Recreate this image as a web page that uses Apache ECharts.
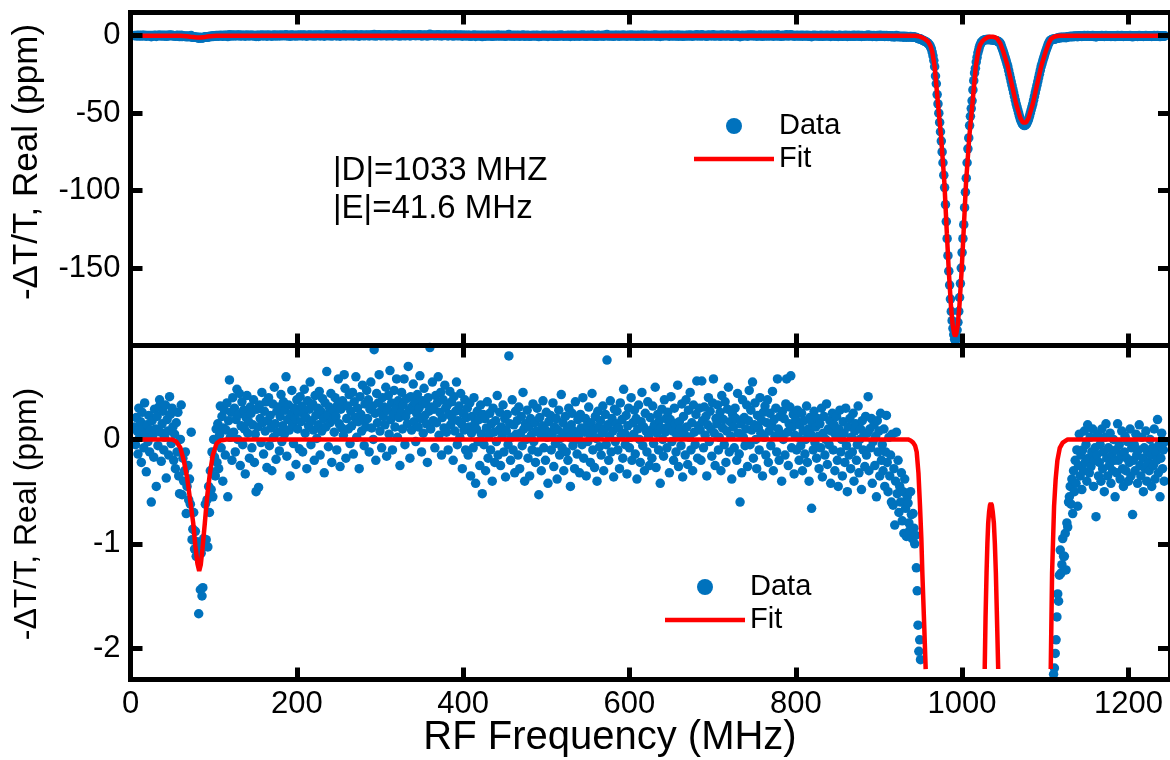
<!DOCTYPE html>
<html>
<head>
<meta charset="utf-8">
<script src="https://cdn.jsdelivr.net/npm/echarts@6/dist/echarts.min.js"></script>
<style>
  html, body { margin: 0; padding: 0; background: #ffffff; }
  #chart { width: 1170px; height: 760px; }
</style>
</head>
<body>
<div id="chart"></div>
<script>
// RF sweep: one reading per MHz, starting at 5 MHz
const freqStart = 5;
const freqStep = 1;

// -dT/T (ppm), one row per 20 MHz of the sweep
const signal = [
  0.12,-0.05,0.21,0.08,-0.14,0.3,0.02,0.17,-0.22,0.26,0.11,-0.08,0.35,0.05,-0.31,0.14,-0.02,0.23,-0.12,0.09,
  -0.6,0.18,0.04,-0.17,0.29,0.1,-0.45,0.22,-0.06,0.31,0.38,0.07,-0.21,0.15,0.27,-0.1,0.02,0.33,-0.37,0.19,
  0.08,-0.15,0.41,0.24,-0.04,0.3,0.12,-0.2,0.05,-0.28,0.16,-0.12,0.26,-0.35,-0.52,0.0,0.33,-0.53,-0.18,-0.4,
  -0.3,-0.12,-0.71,-0.45,-0.25,-0.58,-0.38,-0.62,0.07,-0.96,-0.86,-0.7,-1.05,-0.88,-1.12,-0.98,-1.08,-1.67,-1.03,-1.44,
  -1.09,-1.5,-1.42,-0.95,-1.0,-0.62,-0.96,-0.58,-1.03,-0.45,-0.7,-0.3,-0.48,-0.12,-0.55,0.0,-0.17,-0.35,0.1,-0.22,
  0.15,-0.28,0.04,0.32,-0.08,0.22,-0.4,0.11,0.28,-0.15,0.09,0.35,-0.55,0.18,0.57,0.02,0.26,-0.2,0.4,0.07,
  0.3,-0.12,0.19,0.48,0.0,0.24,0.44,-0.25,0.13,0.36,-0.05,0.28,0.1,-0.33,0.21,0.42,0.06,0.17,-0.18,0.31,
  0.25,-0.08,0.14,0.38,-0.22,0.05,-0.5,0.29,0.12,-0.46,0.33,0.2,-0.03,0.45,0.16,-0.14,0.27,0.08,0.36,-0.27,
  0.18,0.4,-0.06,0.23,0.11,-0.3,0.34,0.02,0.5,0.15,-0.19,0.27,0.07,0.31,-0.11,0.22,0.43,-0.02,0.13,0.36,
  0.05,0.28,0.6,-0.16,0.19,0.33,0.09,-0.35,0.24,0.47,0.14,-0.04,0.3,0.2,-0.24,0.38,0.1,0.26,-0.09,0.41,
  0.17,0.32,-0.12,0.25,0.48,0.06,0.21,-0.28,0.37,0.13,0.29,0.55,-0.05,0.18,0.34,0.09,-0.2,0.42,0.23,0.01,
  0.3,0.14,0.46,-0.15,0.27,0.08,0.39,0.2,-0.32,0.35,0.12,0.65,0.24,-0.07,0.31,0.16,0.44,-0.22,0.19,0.28,
  0.07,0.4,0.22,-0.1,0.33,0.58,0.15,-0.26,0.29,0.11,0.37,0.04,0.62,0.49,-0.18,0.2,0.32,0.1,0.43,-0.04,
  0.27,0.13,0.45,-0.14,0.36,0.21,0.6,0.02,0.3,0.17,-0.28,0.41,0.24,0.08,0.52,0.19,-0.06,0.34,0.12,0.47,
  0.2,0.38,-0.12,0.29,0.55,0.11,0.32,0.0,0.86,0.25,-0.2,0.44,0.16,0.35,0.62,0.08,0.27,-0.08,0.4,0.22,
  0.31,0.14,0.5,-0.16,0.28,0.42,0.05,0.66,0.19,0.35,-0.1,0.24,0.47,0.12,0.3,0.58,0.02,0.37,0.21,-0.25,
  0.26,0.45,0.1,0.33,0.58,-0.05,0.22,0.39,0.15,0.7,0.28,-0.18,0.41,0.09,0.32,0.53,0.17,0.36,-0.02,0.25,
  0.43,0.12,0.3,0.61,0.2,-0.12,0.37,0.06,0.49,0.23,0.34,0.15,-0.22,0.4,0.27,0.88,0.1,0.31,0.55,0.18,
  0.29,-0.08,0.42,0.16,0.35,0.6,0.04,0.26,0.45,-0.15,0.21,0.38,0.11,0.52,0.3,0.07,0.33,-0.1,0.24,0.46,
  0.14,0.36,0.2,-0.2,0.41,0.08,0.27,0.55,-0.05,0.18,0.32,0.02,0.44,0.15,-0.28,0.25,0.09,0.38,-0.1,0.21,
  0.3,-0.15,0.12,0.35,-0.35,0.06,0.22,-0.08,0.4,0.15,-0.42,0.1,0.27,-0.02,0.19,-0.25,0.33,0.05,-0.52,0.24,
  -0.05,0.2,-0.3,0.11,0.36,-0.18,0.04,0.25,-0.1,0.15,-0.4,0.3,0.07,-0.22,0.18,-0.02,0.42,-0.15,0.09,0.26,
  -0.25,0.12,0.03,0.33,-0.12,0.2,-0.36,0.08,0.24,-0.05,0.8,0.15,-0.2,0.02,0.38,-0.1,0.14,-0.32,0.27,0.05,
  0.18,-0.15,0.31,-0.28,0.06,0.22,-0.06,0.45,0.1,-0.4,0.15,0.0,0.28,-0.18,0.12,-0.35,0.2,0.04,-0.1,0.34,
  -0.02,0.16,-0.22,0.08,0.3,-0.12,-0.53,0.21,0.05,-0.3,0.13,0.37,-0.08,0.1,-0.2,0.26,0.02,-0.42,0.17,0.07,
  0.23,-0.1,0.04,0.35,-0.26,0.12,-0.04,0.2,-0.38,0.09,0.28,-0.15,0.01,0.43,-0.08,0.16,-0.3,0.06,0.22,-0.12,
  0.1,-0.2,0.3,0.02,-0.45,0.14,0.25,-0.06,0.08,-0.28,0.36,0.0,-0.14,0.19,0.04,-0.32,0.24,0.11,-0.05,0.4,
  -0.18,0.07,0.2,-0.35,0.13,-0.02,0.31,0.05,-0.22,0.16,0.44,-0.1,0.09,-0.27,0.22,0.01,-0.4,0.27,0.12,-0.07,
  0.18,-0.15,0.06,0.32,-0.3,0.1,0.24,-0.05,0.76,0.14,-0.2,0.03,0.37,-0.12,0.2,0.08,-0.36,0.29,-0.02,0.15,
  0.27,-0.1,0.11,-0.28,0.35,0.04,0.19,-0.18,0.48,0.06,-0.05,0.23,-0.33,0.13,0.3,-0.08,0.02,0.4,-0.2,0.16,
  0.05,0.28,-0.14,0.2,-0.38,0.1,0.33,0.0,-0.22,0.17,0.45,-0.06,0.12,-0.3,0.25,0.08,-0.12,0.36,0.03,-0.25,
  0.21,0.09,-0.18,0.32,-0.04,0.14,0.5,-0.27,0.06,0.24,-0.1,0.18,-0.42,0.11,0.29,0.0,-0.16,0.38,0.07,0.2,
  -0.08,0.26,0.13,-0.32,0.19,0.41,-0.02,0.08,-0.2,0.3,0.15,-0.12,0.04,0.52,-0.26,0.17,0.1,-0.06,0.34,-0.36,
  0.22,0.05,-0.15,0.38,0.12,-0.24,0.28,0.02,0.45,-0.1,0.16,-0.3,0.33,0.07,-0.05,0.24,0.56,-0.18,0.13,0.3,
  0.09,-0.2,0.56,0.18,-0.08,0.31,0.04,0.22,-0.35,0.14,0.4,-0.02,0.27,0.1,-0.16,0.35,0.58,0.06,-0.25,0.2,
  0.15,0.33,-0.1,0.02,0.26,-0.3,0.42,0.11,0.19,-0.05,0.36,-0.22,0.08,0.29,0.5,-0.12,0.17,0.03,-0.38,0.24,
  0.12,-0.08,0.3,0.2,-0.2,0.44,0.06,-0.14,-0.6,0.15,-0.32,0.38,0.02,0.21,-0.06,0.1,0.33,-0.26,0.18,0.47,
  -0.05,0.28,0.09,0.55,-0.18,0.14,0.35,0.0,-0.28,0.23,0.11,-0.1,0.4,0.06,0.18,-0.35,0.26,0.02,0.32,-0.15,
  0.16,0.38,-0.22,0.08,0.25,-0.06,0.13,0.46,-0.3,0.19,0.03,0.3,-0.12,0.58,0.1,-0.2,0.22,0.05,-0.4,0.27,
  0.0,0.2,-0.15,0.34,0.58,0.07,-0.25,0.15,0.31,0.61,-0.08,0.12,0.24,-0.33,0.04,0.19,-0.1,0.28,0.02,-0.2,
  0.14,-0.06,0.25,-0.3,0.08,0.18,-0.14,0.0,0.32,-0.22,0.1,-0.4,0.21,0.05,-0.66,0.16,-0.1,0.27,-0.03,0.12,
  -0.18,0.2,0.03,-0.28,0.15,-0.08,0.3,-0.36,0.06,0.22,-0.15,0.0,0.34,-0.24,0.1,-0.05,0.18,-0.42,0.08,0.25,
  -0.1,0.14,-0.3,0.04,0.22,-0.2,-0.45,0.1,0.28,-0.12,0.0,-0.35,0.17,0.06,-0.22,0.3,-0.06,-0.5,0.12,-0.15,
  0.2,-0.28,0.02,-0.12,0.25,-0.4,0.08,0.15,-0.2,-0.05,0.32,-0.32,0.0,0.1,-0.48,0.18,-0.1,0.05,-0.26,0.22,
  -0.15,0.06,0.41,-0.3,0.1,-0.08,0.2,-0.42,-0.02,0.14,-0.25,0.03,-0.55,0.18,-0.12,0.08,-0.35,0.25,-0.2,-0.05,
  -0.3,0.1,-0.45,-0.12,0.23,-0.22,-0.5,0.02,-0.35,-0.15,-0.6,0.05,-0.63,-0.28,-0.82,-0.4,0.07,-0.52,-0.2,-0.7,
  -0.45,-0.6,-0.32,-0.78,-0.5,-0.9,-0.38,-0.66,-0.93,-0.55,-0.61,-0.8,-0.87,-0.5,-0.72,-0.95,-0.71,-0.85,-1.0,-0.92,
  -1.23,-1.45,-1.78,-2.03,-1.92,-2.11,-2.4,-2.7,-3.0,-3.3,-3.5,-3.8,-4.1,-4.5,-4.9,-5.4,-6.1,-7.2,-8.4,-10.5,
  -13,-16,-20,-26,-31,-38,-44,-50,-56,-62,-68,-75,-82,-90,-98,-109,-120,-131,-142,-152,
  -161,-170,-178,-184,-189,-193,-196,-197,-194,-190,-185,-178,-169,-160,-150,-140,-131,-122,-111,-101,
  -92,-82,-73,-66,-58,-52,-47,-42,-35,-29,-24,-21,-17,-14,-11,-9,-7,-5.5,-4.5,-3.8,
  -3.3,-2.9,-2.7,-2.55,-2.5,-2.45,-2.45,-2.5,-2.5,-2.55,-2.6,-2.65,-2.7,-2.8,-2.9,-3.0,-3.2,-3.4,-3.6,-3.9,
  -4.2,-5.0,-6.4,-7.9,-9.4,-11,-12.8,-14.5,-16.3,-18.2,-20,-22.4,-24.8,-27.2,-29.6,-32,-34.4,-36.8,-39.2,-41.6,
  -44,-46,-48,-50,-52,-53.8,-55.2,-56.4,-57.3,-57.8,-58,-57.8,-57.3,-56.4,-55.2,-53.8,-52,-50,-48,-46,
  -44,-41.6,-39.2,-36.8,-34.4,-32,-29.6,-27.2,-24.8,-22.4,-20,-18.2,-16.3,-14.5,-12.8,-11,-9.4,-7.9,-6.4,-5.0,
  -4.0,-3.2,-2.7,-2.5,-2.35,-2.25,-2.19,-2.05,-1.92,-1.7,-1.48,-1.55,-1.3,-1.06,-1.28,-1.2,-0.95,-1.12,-1.12,-0.9,
  -1.25,-0.8,-0.84,-0.6,-0.55,-0.45,-0.62,-0.38,-0.71,-0.3,-0.5,-0.2,-0.42,-0.1,-0.64,-0.25,0.05,-0.35,-0.15,-0.48,
  -0.1,-0.3,0.08,-0.22,-0.05,-0.4,0.14,-0.18,-0.32,0.02,-0.26,-0.12,0.1,-0.45,-0.2,-0.08,-0.74,-0.15,0.05,-0.35,
  -0.22,-0.05,-0.4,0.1,-0.28,-0.12,-0.5,0.02,0.15,-0.18,-0.35,-0.08,-0.25,0.06,-0.42,-0.15,-0.3,0.0,-0.2,-0.55,
  -0.1,-0.32,0.15,-0.2,-0.05,-0.38,-0.15,0.08,-0.28,-0.45,-0.12,0.03,-0.3,-0.18,-0.02,-0.4,-0.22,0.1,-0.35,-0.08,
  -0.72,-0.2,-0.05,-0.3,0.05,-0.15,-0.42,-0.1,0.14,-0.25,-0.35,0.02,-0.18,-0.5,-0.08,-0.28,0.08,-0.4,-0.12,-0.22,
  -0.3,0.0,-0.15,-0.45,-0.08,-0.25,0.1,-0.38,-0.12,-0.2,0.19,-0.32,-0.05,-0.55,-0.18,0.06,-0.28,-0.1,-0.4,-0.02
];

// Fitted resonance curve: [frequency (MHz), -dT/T (ppm)]
const fitCurve = [
  [3,0],[50,0],[55,-0.02],[60,-0.08],[64,-0.2],[68,-0.36],[72,-0.6],[75.4,-0.8],[78,-1.02],[80.5,-1.19],
  [82.6,-1.26],[84.5,-1.2],[86.5,-1.05],[89.4,-0.8],[92,-0.56],[95.4,-0.33],[99,-0.15],[103.4,-0.04],[108,-0.01],[115,0],
  [935,0],[938,-0.01],[941,-0.03],[943.5,-0.06],[945.4,-0.12],[947.5,-0.32],[949.4,-0.64],[951,-0.95],[952.2,-1.28],[954.3,-1.75],[956.2,-2.2],
  [959,-3.7],[962,-6.5],[964,-10],[967,-20],[971,-44],[974.7,-65],[978.7,-95],[981.7,-128],[984,-152],[986.7,-175],[988.7,-187],
  [990.5,-192.5],[991.7,-194],[993,-192.5],[994.7,-187],[996.7,-175],[999.4,-152],[1001.7,-128],[1004.7,-95],[1008.7,-65],
  [1012.4,-44],[1016.4,-20],[1019.4,-10],[1021.5,-6],[1024.5,-3.5],
  [1027.2,-2.2],[1028.2,-1.7],[1029.4,-1.28],[1030.4,-1.0],[1031.4,-0.8],[1032.5,-0.69],[1033.5,-0.63],[1034.6,-0.61],
  [1035.7,-0.63],[1036.8,-0.69],[1038.2,-0.8],[1039.4,-1.0],[1040.6,-1.28],[1041.9,-1.7],[1043.4,-2.2],
  [1046,-5],[1050,-11],[1055,-20],[1060,-32],[1065,-44],[1070,-53],[1073,-56],[1075,-56.5],[1077,-56],[1080,-53],
  [1085,-44],[1090,-32],[1095,-20],[1100,-11],[1104,-5],[1106.6,-2.2],[1108.2,-1.28],[1110.6,-0.64],[1112.5,-0.38],
  [1114.6,-0.2],[1117.5,-0.08],[1121,-0.03],[1127,0],[1250,0]
];

// Axis ranges
const freqRange = [0, 1250];
const freqTickStep = 200;
const upperRange = [-200, 15];
const upperTickStep = 50;
const lowerRange = [-2.3, 0.9];
const lowerTickStep = 1;
const lowerFitFloor = -2.2;

const FONT = '"Liberation Sans", Arial, Helvetica, sans-serif';
const BLUE = '#0072BD';
const RED = '#FF0000';

const measured = signal.map((v, i) => [freqStart + i * freqStep, v]);

// Lower panel shows only the part of the fit above its floor; break the line elsewhere
const fitLower = [];
let broken = false;
for (const [f, v] of fitCurve) {
  if (v >= lowerFitFloor) { fitLower.push([f, v]); broken = false; }
  else if (!broken) { fitLower.push([f, '-']); broken = true; }
}

const frameLine = { show: true, onZero: false, lineStyle: { color: '#000', width: 5, cap: 'square' } };
const frameTick = { show: true, inside: true, length: 12, lineStyle: { color: '#000', width: 5 } };

function freqAxis(gridIndex, position, withLabels) {
  return {
    type: 'value', gridIndex, position,
    min: freqRange[0], max: freqRange[1], interval: freqTickStep,
    axisLine: frameLine, axisTick: frameTick, splitLine: { show: false },
    axisLabel: {
      show: withLabels, showMaxLabel: false, margin: 9,
      color: '#000', fontSize: 31, fontFamily: FONT,
      formatter: (v) => String(v)
    },
    z: 5
  };
}

function valueAxis(gridIndex, position, range, step, withLabels) {
  const ax = {
    type: 'value', gridIndex, position,
    min: range[0], max: range[1],
    axisLine: frameLine, axisTick: frameTick, splitLine: { show: false },
    axisLabel: {
      show: withLabels, showMinLabel: false, showMaxLabel: false, margin: 10,
      color: '#000', fontSize: 31, fontFamily: FONT,
      formatter: (v) => String(v)
    },
    z: 5
  };
  if (range[0] % step === 0) { ax.interval = step; }
  else { ax.minInterval = step; ax.maxInterval = step; }
  return ax;
}

// Legend key for the fit: a plain bar the width of the key
const fitKey = 'path://M0,0 L80,0 L80,4.6 L0,4.6 Z';

function legendBlock(left, top, gap) {
  return {
    left, top, orient: 'vertical', padding: 0,
    itemWidth: 80, itemHeight: 16, itemGap: gap, selectedMode: false,
    data: [
      { name: 'Data', icon: 'circle' },
      { name: 'Fit', icon: fitKey, itemStyle: { color: RED } }
    ],
    textStyle: { color: '#000', fontSize: 29, lineHeight: 30, fontFamily: FONT }
  };
}

const chart = echarts.init(document.getElementById('chart'), null, { renderer: 'canvas' });

chart.setOption({
  animation: false,
  backgroundColor: '#ffffff',
  grid: [
    { left: 130.5, top: 12.5, width: 1041.5, height: 333 },
    { left: 130.5, top: 345.5, width: 1041.5, height: 334 }
  ],
  xAxis: [
    freqAxis(0, 'bottom', false),
    freqAxis(0, 'top', false),
    freqAxis(1, 'bottom', true),
    freqAxis(1, 'top', false)
  ],
  yAxis: [
    valueAxis(0, 'left', upperRange, upperTickStep, true),
    valueAxis(0, 'right', upperRange, upperTickStep, false),
    valueAxis(1, 'left', lowerRange, lowerTickStep, true),
    valueAxis(1, 'right', lowerRange, lowerTickStep, false)
  ],
  legend: [
    legendBlock(694, 111, 3),
    legendBlock(665, 572, 3)
  ],
  series: [
    {
      name: 'Data', type: 'scatter', xAxisIndex: 0, yAxisIndex: 0,
      data: measured, symbol: 'circle', symbolSize: 9.5, silent: true,
      itemStyle: { color: BLUE, opacity: 1 }, z: 2
    },
    {
      name: 'Fit', type: 'line', xAxisIndex: 0, yAxisIndex: 0,
      data: fitCurve, symbol: 'none', showSymbol: false, silent: true,
      lineStyle: { color: RED, width: 4.5 }, itemStyle: { color: RED }, z: 3
    },
    {
      name: 'Data', type: 'scatter', xAxisIndex: 2, yAxisIndex: 2,
      data: measured, symbol: 'circle', symbolSize: 9.5, silent: true,
      itemStyle: { color: BLUE, opacity: 1 }, z: 2
    },
    {
      name: 'Fit', type: 'line', xAxisIndex: 2, yAxisIndex: 2,
      data: fitLower, symbol: 'none', showSymbol: false, silent: true, connectNulls: false,
      lineStyle: { color: RED, width: 4.5 }, itemStyle: { color: RED }, z: 3
    }
  ],
  graphic: [
    {
      type: 'text', x: 27, y: 162, rotation: Math.PI / 2, silent: true,
      style: { text: '-ΔT/T, Real (ppm)', font: '35px ' + FONT, fill: '#000', align: 'center', verticalAlign: 'middle' }
    },
    {
      type: 'text', x: 27, y: 514, rotation: Math.PI / 2, silent: true,
      style: { text: '-ΔT/T, Real (ppm)', font: '32px ' + FONT, fill: '#000', align: 'center', verticalAlign: 'middle' }
    },
    {
      type: 'text', x: 610, y: 738, silent: true,
      style: { text: 'RF Frequency (MHz)', font: '40px ' + FONT, fill: '#000', align: 'center', verticalAlign: 'middle' }
    },
    {
      type: 'text', x: 333, y: 171, silent: true,
      style: { text: '|D|=1033 MHZ', font: '33px ' + FONT, fill: '#000', align: 'left', verticalAlign: 'middle' }
    },
    {
      type: 'text', x: 333, y: 209, silent: true,
      style: { text: '|E|=41.6 MHz', font: '33px ' + FONT, fill: '#000', align: 'left', verticalAlign: 'middle' }
    }
  ]
});
</script>
</body>
</html>
